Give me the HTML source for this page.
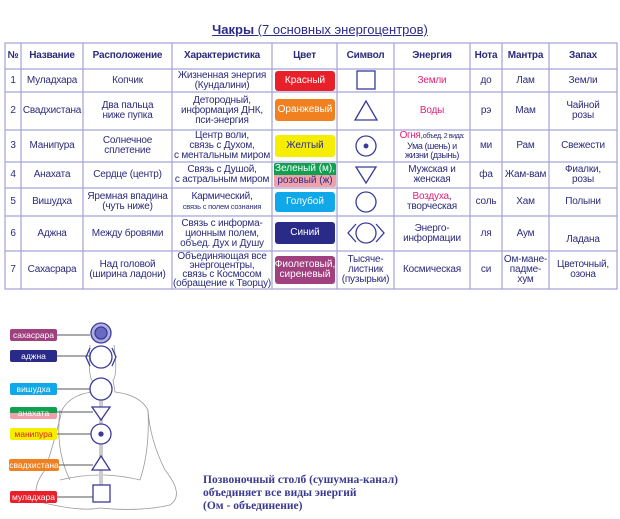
<!DOCTYPE html>
<html><head><meta charset="utf-8"><style>
body{margin:0;width:620px;height:519px;background:#fff;position:relative;overflow:hidden;font-family:"Liberation Sans",sans-serif;color:#2b2b7a}
.t{position:absolute;text-align:center;font-size:10px;line-height:10px;display:flex;align-items:center;justify-content:center;flex-direction:column;letter-spacing:-0.2px}
.b{position:absolute;border-radius:3px;color:#fff;font-size:10px;line-height:10px;display:flex;align-items:center;justify-content:center;text-align:center;flex-direction:column}
.lab{position:absolute;left:10px;width:47px;height:12px;border-radius:2px;color:#fff;font-size:8.5px;line-height:12px;text-align:center}
</style></head><body>
<div style="position:absolute;left:0;width:620px;top:22px;text-align:center;font-size:13px;color:#2b2b8a;text-decoration:underline;padding-left:20px;box-sizing:border-box"><b>Чакры</b> (7 основных энергоцентров)</div>
<svg width="620" height="519" style="position:absolute;left:0;top:0">
<g stroke="#a4a4d6" stroke-width="1.2" fill="none">
<rect x="5" y="43" width="612" height="246"/>
<line x1="5" y1="69" x2="617" y2="69"/><line x1="5" y1="92" x2="617" y2="92"/><line x1="5" y1="130" x2="617" y2="130"/><line x1="5" y1="162" x2="617" y2="162"/><line x1="5" y1="188" x2="617" y2="188"/><line x1="5" y1="216" x2="617" y2="216"/><line x1="5" y1="251" x2="617" y2="251"/>
<line x1="21" y1="43" x2="21" y2="289"/><line x1="83" y1="43" x2="83" y2="289"/><line x1="172" y1="43" x2="172" y2="289"/><line x1="272" y1="43" x2="272" y2="289"/><line x1="337" y1="43" x2="337" y2="289"/><line x1="394" y1="43" x2="394" y2="289"/><line x1="470" y1="43" x2="470" y2="289"/><line x1="502" y1="43" x2="502" y2="289"/><line x1="549" y1="43" x2="549" y2="289"/>
</g>
<g stroke="#3a3a9a" stroke-width="1.3" fill="none">
<rect x="357" y="71" width="18" height="18"/>
<polygon points="366,101 355,120 377,120"/>
<circle cx="366" cy="146" r="10"/><circle cx="366" cy="146" r="1.8" fill="#3a3a9a"/>
<polygon points="356,167 376,167 366,183"/>
<circle cx="366" cy="202" r="10"/>
<circle cx="366" cy="233" r="10"/><path d="M356,224 L348,233 L356,242 M376,224 L384,233 L376,242"/>
</g>
<g stroke="#999" stroke-width="0.8" fill="none">
<path d="M90,345 Q88,375 92,380 L92,392 Q70,395 62,410 Q55,440 45,470 Q30,490 40,502 Q80,512 100,508 Q140,512 170,505 Q185,495 165,470 Q150,440 148,410 Q140,395 115,392 L113,380 Q118,375 114,345"/>
<path d="M60,410 Q55,450 70,480 M148,410 Q150,450 140,480 M60,480 Q100,470 140,480"/>
<line x1="101" y1="395" x2="101" y2="485" stroke="#ccc" stroke-width="4"/>
</g>
<g stroke="#555" stroke-width="1" fill="none">
<line x1="57" y1="335" x2="90" y2="335"/><line x1="57" y1="356" x2="90" y2="356"/><line x1="57" y1="389" x2="90" y2="389"/><line x1="57" y1="412" x2="93" y2="412"/><line x1="57" y1="434" x2="91" y2="434"/><line x1="57" y1="465" x2="93" y2="465"/><line x1="57" y1="497" x2="93" y2="497"/>
</g>
<g stroke="#3a3a9a" stroke-width="1.3" fill="#fff">
<circle cx="101" cy="333" r="10" fill="#b0b0e0"/><circle cx="101" cy="333" r="6" fill="#6a6ac0"/>
<path d="M90,348 L86,357 L90,366 M112,348 L116,357 L112,366" fill="none"/><circle cx="101" cy="357" r="11"/>
<circle cx="101" cy="389" r="11"/>
<polygon points="92,407 110,407 101,420"/>
<circle cx="101" cy="434" r="10"/><circle cx="101" cy="434" r="2" fill="#3a3a9a"/>
<polygon points="101,456 92,470 110,470"/>
<rect x="93" y="485" width="17" height="17"/>
</g>
</svg>
<div class="t" style="left:5px;top:43px;width:16px;height:26px;font-weight:bold">№</div>
<div class="t" style="left:21px;top:43px;width:62px;height:26px;font-weight:bold">Название</div>
<div class="t" style="left:83px;top:43px;width:89px;height:26px;font-weight:bold">Расположение</div>
<div class="t" style="left:172px;top:43px;width:100px;height:26px;font-weight:bold">Характеристика</div>
<div class="t" style="left:272px;top:43px;width:65px;height:26px;font-weight:bold">Цвет</div>
<div class="t" style="left:337px;top:43px;width:57px;height:26px;font-weight:bold">Символ</div>
<div class="t" style="left:394px;top:43px;width:76px;height:26px;font-weight:bold">Энергия</div>
<div class="t" style="left:470px;top:43px;width:32px;height:26px;font-weight:bold">Нота</div>
<div class="t" style="left:502px;top:43px;width:47px;height:26px;font-weight:bold">Мантра</div>
<div class="t" style="left:549px;top:43px;width:68px;height:26px;font-weight:bold">Запах</div>
<div class="t" style="left:5px;top:69px;width:16px;height:23px">1</div>
<div class="t" style="left:21px;top:69px;width:62px;height:23px">Муладхара</div>
<div class="t" style="left:83px;top:69px;width:89px;height:23px">Копчик</div>
<div class="t" style="left:172px;top:69px;width:100px;height:23px">Жизненная энергия<br>(Кундалини)</div>
<div class="b" style="left:275px;top:71px;width:60px;height:20px;background:#e8202a">Красный</div>
<div class="t" style="left:394px;top:69px;width:76px;height:23px;color:#e0207a">Земли</div>
<div class="t" style="left:470px;top:69px;width:32px;height:23px">до</div>
<div class="t" style="left:502px;top:69px;width:47px;height:23px">Лам</div>
<div class="t" style="left:549px;top:69px;width:68px;height:23px">Земли</div>
<div class="t" style="left:5px;top:92px;width:16px;height:38px">2</div>
<div class="t" style="left:21px;top:92px;width:62px;height:38px">Свадхистана</div>
<div class="t" style="left:83px;top:92px;width:89px;height:38px">Два пальца<br>ниже пупка</div>
<div class="t" style="left:172px;top:92px;width:100px;height:38px">Детородный,<br>информация ДНК,<br>пси-энергия</div>
<div class="b" style="left:275px;top:99px;width:60px;height:22px;background:#f08020">Оранжевый</div>
<div class="t" style="left:394px;top:92px;width:76px;height:38px;color:#e0207a">Воды</div>
<div class="t" style="left:470px;top:92px;width:32px;height:38px">рэ</div>
<div class="t" style="left:502px;top:92px;width:47px;height:38px">Мам</div>
<div class="t" style="left:549px;top:92px;width:68px;height:38px">Чайной<br>розы</div>
<div class="t" style="left:5px;top:130px;width:16px;height:32px">3</div>
<div class="t" style="left:21px;top:130px;width:62px;height:32px">Манипура</div>
<div class="t" style="left:83px;top:130px;width:89px;height:32px">Солнечное<br>сплетение</div>
<div class="t" style="left:172px;top:130px;width:100px;height:32px">Центр воли,<br>связь с Духом,<br>с ментальным миром</div>
<div class="b" style="left:275px;top:135px;width:60px;height:22px;background:#f5ee00;color:#2b2b8a">Желтый</div>
<div class="t" style="left:394px;top:130px;width:76px;height:32px;font-size:9px;line-height:9.5px;white-space:nowrap;letter-spacing:-0.4px"><span><span style="color:#e0207a;font-size:10px">Огня,</span><span style="font-size:7px">объед. 2 вида:</span></span>Ума (шень) и<br>жизни (дзынь)</div>
<div class="t" style="left:470px;top:130px;width:32px;height:32px">ми</div>
<div class="t" style="left:502px;top:130px;width:47px;height:32px">Рам</div>
<div class="t" style="left:549px;top:130px;width:68px;height:32px">Свежести</div>
<div class="t" style="left:5px;top:162px;width:16px;height:26px">4</div>
<div class="t" style="left:21px;top:162px;width:62px;height:26px">Анахата</div>
<div class="t" style="left:83px;top:162px;width:89px;height:26px">Сердце (центр)</div>
<div class="t" style="left:172px;top:162px;width:100px;height:26px">Связь с Душой,<br>с астральным миром</div>
<div class="b" style="left:274px;top:163px;width:62px;height:12px;background:#10a050;border-radius:2px 2px 0 0">Зеленый (м),</div>
<div class="b" style="left:274px;top:175px;width:62px;height:12px;background:#f0a0a8;color:#2b2b8a;border-radius:0 0 2px 2px">розовый (ж)</div>
<div class="t" style="left:394px;top:162px;width:76px;height:26px">Мужская и<br>женская</div>
<div class="t" style="left:470px;top:162px;width:32px;height:26px">фа</div>
<div class="t" style="left:502px;top:162px;width:47px;height:26px">Жам-вам</div>
<div class="t" style="left:549px;top:162px;width:68px;height:26px">Фиалки,<br>розы</div>
<div class="t" style="left:5px;top:188px;width:16px;height:28px">5</div>
<div class="t" style="left:21px;top:188px;width:62px;height:28px">Вишудха</div>
<div class="t" style="left:83px;top:188px;width:89px;height:28px">Яремная впадина<br>(чуть ниже)</div>
<div class="t" style="left:172px;top:188px;width:100px;height:28px">Кармический,<br><span style="font-size:7.5px">связь с полем сознания</span></div>
<div class="b" style="left:275px;top:192px;width:60px;height:20px;background:#10a8e8">Голубой</div>
<div class="t" style="left:394px;top:188px;width:76px;height:28px"><span><span style="color:#e0207a">Воздуха</span>,</span>творческая</div>
<div class="t" style="left:470px;top:188px;width:32px;height:28px">соль</div>
<div class="t" style="left:502px;top:188px;width:47px;height:28px">Хам</div>
<div class="t" style="left:549px;top:188px;width:68px;height:28px">Полыни</div>
<div class="t" style="left:5px;top:216px;width:16px;height:35px">6</div>
<div class="t" style="left:21px;top:216px;width:62px;height:35px">Аджна</div>
<div class="t" style="left:83px;top:216px;width:89px;height:35px">Между бровями</div>
<div class="t" style="left:172px;top:216px;width:100px;height:35px">Связь с информа-<br>ционным полем,<br>объед. Дух и Душу</div>
<div class="b" style="left:275px;top:222px;width:60px;height:22px;background:#2a2a88">Синий</div>
<div class="t" style="left:394px;top:216px;width:76px;height:35px">Энерго-<br>информации</div>
<div class="t" style="left:470px;top:216px;width:32px;height:35px">ля</div>
<div class="t" style="left:502px;top:216px;width:47px;height:35px">Аум</div>
<div class="t" style="left:549px;top:228px;width:68px;height:23px">Ладана</div>
<div class="t" style="left:5px;top:251px;width:16px;height:38px">7</div>
<div class="t" style="left:21px;top:251px;width:62px;height:38px">Сахасрара</div>
<div class="t" style="left:83px;top:251px;width:89px;height:38px">Над головой<br>(ширина ладони)</div>
<div class="t" style="left:172px;top:251px;width:100px;height:38px;line-height:9px">Объединяющая все<br>энергоцентры,<br>связь с Космосом<br>(обращение к Творцу)</div>
<div class="b" style="left:275px;top:256px;width:60px;height:28px;background:#a0407e">Фиолетовый,<br>сиреневый</div>
<div class="t" style="left:337px;top:251px;width:57px;height:38px">Тысяче-<br>листник<br>(пузырьки)</div>
<div class="t" style="left:394px;top:251px;width:76px;height:38px">Космическая</div>
<div class="t" style="left:470px;top:251px;width:32px;height:38px">си</div>
<div class="t" style="left:502px;top:251px;width:47px;height:38px">Ом-мане-<br>падме-<br>хум</div>
<div class="t" style="left:549px;top:251px;width:68px;height:38px">Цветочный,<br>озона</div>
<div class="lab" style="top:329px;background:#a0407e">сахасрара</div>
<div class="lab" style="top:350px;background:#2a2a88">аджна</div>
<div class="lab" style="top:383px;background:#10a8e8">вишудха</div>
<div class="lab" style="top:407px;background:linear-gradient(#10a050 50%,#f0a0a8 50%)">анахата</div>
<div class="lab" style="top:428px;background:#f5ee00;color:#e02020">манипура</div>
<div class="lab" style="top:459px;background:#f08020;width:50px;left:9px">свадхистана</div>
<div class="lab" style="top:491px;background:#e8202a">муладхара</div>
<div style="position:absolute;left:203px;top:474px;font-family:'Liberation Serif',serif;font-size:11.5px;line-height:13px;color:#3a3a90;font-weight:bold">Позвоночный столб (сушумна-канал)<br>объединяет все виды энергий<br>(Ом - объединение)</div>
</body></html>
